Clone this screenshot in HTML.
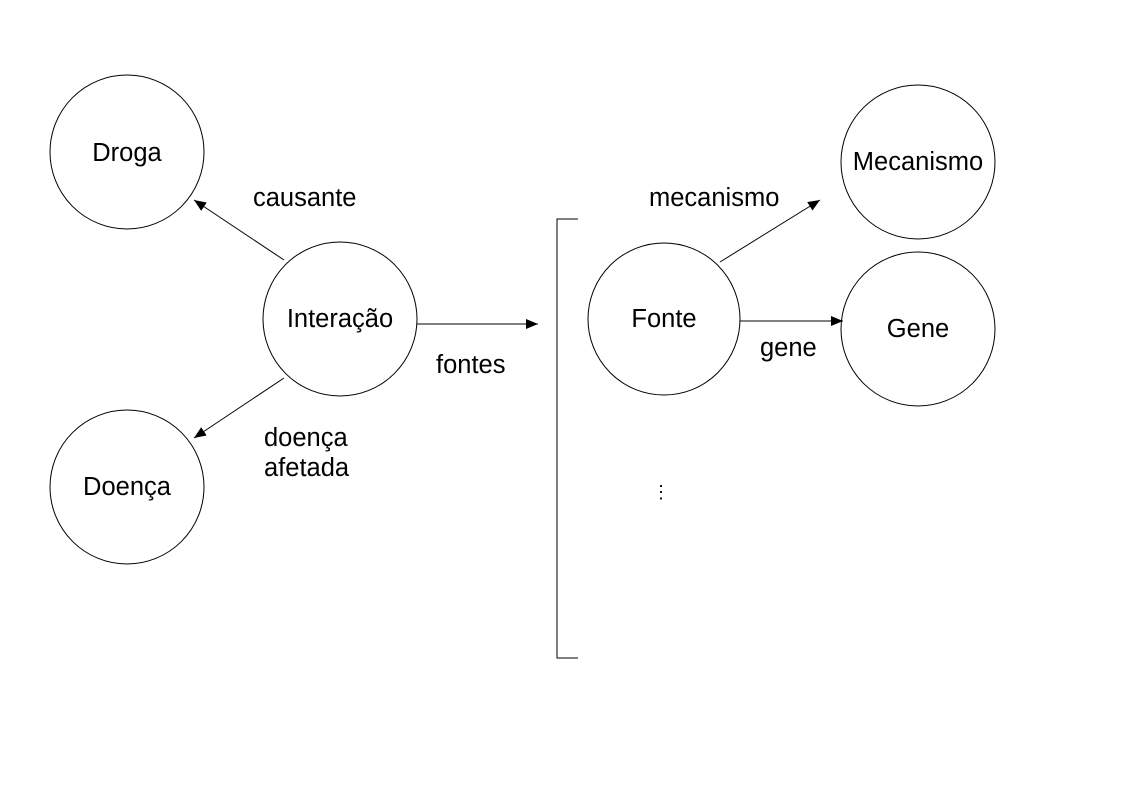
<!DOCTYPE html>
<html><head><style>body{margin:0;background:#fff}svg{display:block}text{font-family:"Liberation Sans",sans-serif;font-size:25.5px;fill:#000}</style></head>
<body>
<svg width="1123" height="794" viewBox="0 0 1123 794">
<defs><marker id="a" markerWidth="12" markerHeight="10" refX="12" refY="5" orient="auto" markerUnits="userSpaceOnUse"><path d="M0,0L12,5L0,10z" fill="#000"/></marker></defs>
<g fill="none" stroke="#000" stroke-width="1">
<circle cx="127" cy="152" r="77"/>
<circle cx="127" cy="487" r="77"/>
<circle cx="340" cy="319" r="77"/>
<circle cx="664" cy="319" r="76"/>
<circle cx="918" cy="162" r="77"/>
<circle cx="918" cy="329" r="77"/>
<line x1="284" y1="260" x2="194" y2="200" marker-end="url(#a)"/>
<line x1="284" y1="378" x2="194" y2="438" marker-end="url(#a)"/>
<line x1="417" y1="324" x2="538" y2="324" marker-end="url(#a)"/>
<line x1="720" y1="262" x2="820" y2="200" marker-end="url(#a)"/>
<line x1="740" y1="321" x2="843" y2="321" marker-end="url(#a)"/>
<path d="M578,219H557V658H578"/>
</g>
<text x="127" y="161" text-anchor="middle">Droga</text>
<text x="127" y="495" text-anchor="middle">Doença</text>
<text x="340" y="327" text-anchor="middle">Interação</text>
<text x="664" y="327" text-anchor="middle">Fonte</text>
<text x="918" y="170" text-anchor="middle">Mecanismo</text>
<text x="918" y="337" text-anchor="middle">Gene</text>
<text x="253" y="206">causante</text>
<text x="264" y="446">doença</text>
<text x="264" y="476">afetada</text>
<text x="436" y="373">fontes</text>
<text x="649" y="206">mecanismo</text>
<text x="760" y="356">gene</text>
<text x="661" y="498" text-anchor="middle" style="font-size:18px">⋮</text>
</svg>
</body></html>
